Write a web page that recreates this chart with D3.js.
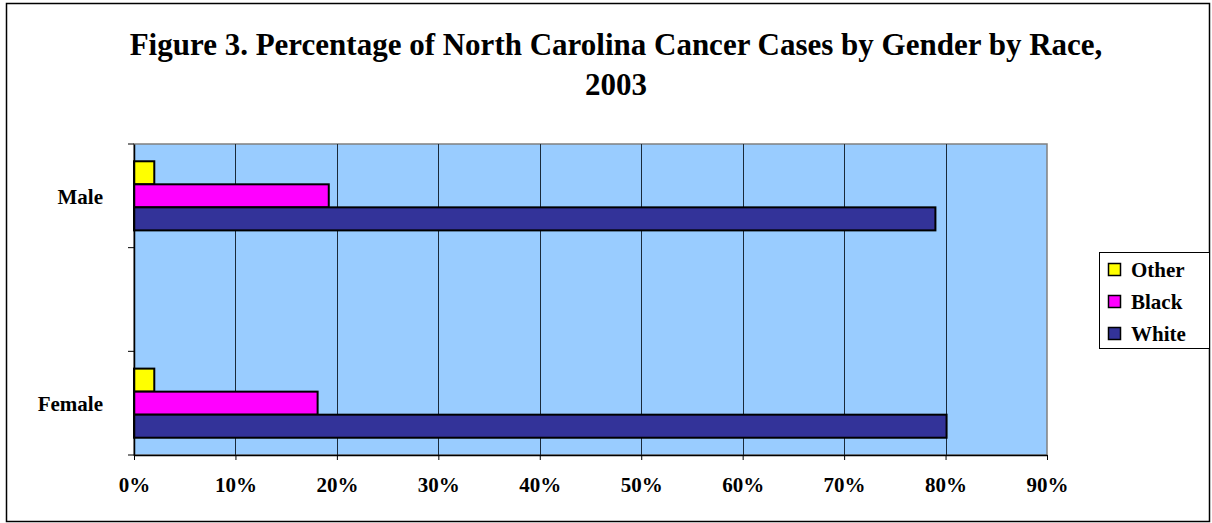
<!DOCTYPE html>
<html><head><meta charset="utf-8">
<script src="https://cdn.jsdelivr.net/npm/d3@7"></script>
<style>body{margin:0;background:#fff}svg{display:block}</style>
</head><body>
<script>
const categories = ["Male", "", "Female"];
const series = ["Other", "Black", "White"];
const otherValues = [2.0, null, 2.0];
const blackValues = [19.2, null, 18.1];
const whiteValues = [79.0, null, 80.1];
const xTicks = [0, 10, 20, 30, 40, 50, 60, 70, 80, 90];
const colors = ["#FFFF00", "#FF00FF", "#333399"];
const titleLines = ["Figure 3. Percentage of North Carolina Cancer Cases by Gender by Race,", "2003"];

const W = 1212, H = 523;
const svg = d3.select("body").append("svg").attr("width", W).attr("height", H);
const font = "'Liberation Serif','Times New Roman',serif";

svg.append("rect").attr("x", 6.5).attr("y", 3.5).attr("width", 1203).attr("height", 518)
  .attr("fill", "#fff").attr("stroke", "#000").attr("stroke-width", 1.5);

const plot = {l: 134, r: 1047, t: 144, b: 455};
const x = d3.scaleLinear().domain([0, 90]).range([plot.l, plot.r]);
const y = d3.scaleBand().domain(categories).range([plot.t, plot.b]).paddingInner(0).paddingOuter(0);
const yInner = d3.scaleBand().domain(series).range([0, y.bandwidth()]).paddingInner(0).paddingOuter(0.75);

svg.append("rect").attr("x", plot.l).attr("y", plot.t).attr("width", plot.r - plot.l).attr("height", plot.b - plot.t)
  .attr("fill", "#99CCFF").attr("stroke", "#808080").attr("stroke-width", 1.5);

// gridlines
svg.append("g").selectAll("line").data(xTicks.slice(1, -1)).join("line")
  .attr("x1", d => Math.round(x(d)) + 0.5).attr("x2", d => Math.round(x(d)) + 0.5)
  .attr("y1", plot.t).attr("y2", plot.b).attr("stroke", "#1a2a3a").attr("stroke-width", 1);

const rows = categories.map((c, i) => ({cat: c, vals: [otherValues[i], blackValues[i], whiteValues[i]]}));
const g = svg.append("g");
rows.forEach(r => {
  r.vals.forEach((v, j) => {
    if (v == null) return;
    g.append("rect")
      .attr("x", x(0)).attr("y", y(r.cat) + yInner(series[j]))
      .attr("width", x(v) - x(0)).attr("height", yInner.bandwidth())
      .attr("fill", colors[j]).attr("stroke", "#000").attr("stroke-width", 2);
  });
});

// x axis
const xAxis = d3.axisBottom(x).tickValues(xTicks).tickFormat(d => d + "%").tickSize(5).tickSizeOuter(0);
const xg = svg.append("g").attr("transform", `translate(0,${plot.b})`).call(xAxis);
xg.select(".domain").attr("stroke", "#000").attr("stroke-width", 1.5);
xg.selectAll(".tick line").attr("stroke", "#000");
xg.selectAll("text").attr("font-family", font).attr("font-weight", "bold").attr("font-size", 21)
  .attr("fill", "#000").attr("dy", "0").attr("y", 37);

// y axis
const yAxis = d3.axisLeft(y).tickSize(0).tickFormat(d => d);
const yg = svg.append("g").attr("transform", `translate(${plot.l},0)`).call(yAxis);
yg.select(".domain").attr("stroke", "#000").attr("stroke-width", 1.5);
yg.selectAll("text").attr("font-family", font).attr("font-weight", "bold").attr("font-size", 21)
  .attr("fill", "#000").attr("x", -31).attr("dy", "0.38em");
// category boundary ticks
const bounds = categories.map(c => y(c)).concat([y.range()[1]]);
svg.append("g").selectAll("line").data(bounds).join("line")
  .attr("x1", plot.l - 6).attr("x2", plot.l).attr("y1", d => d).attr("y2", d => d)
  .attr("stroke", "#000").attr("stroke-width", 1);

// title
svg.append("g").selectAll("text").data(titleLines).join("text")
  .attr("x", 616).attr("y", (d, i) => 55 + i * 40).attr("text-anchor", "middle")
  .attr("font-family", font).attr("font-weight", "bold").attr("font-size", 31).attr("fill", "#000").text(d => d);

// legend
const lg = svg.append("g");
lg.append("rect").attr("x", 1099.5).attr("y", 252.5).attr("width", 110).attr("height", 96)
  .attr("fill", "#fff").attr("stroke", "#000").attr("stroke-width", 1);
series.forEach((s, i) => {
  const cy = 270 + i * 32;
  lg.append("rect").attr("x", 1108.5).attr("y", cy - 6.5).attr("width", 12).attr("height", 12)
    .attr("fill", colors[i]).attr("stroke", "#000").attr("stroke-width", 1.5);
  lg.append("text").attr("x", 1131).attr("y", cy + 7).attr("font-family", font).attr("font-weight", "bold")
    .attr("font-size", 21).attr("fill", "#000").text(s);
});
</script>
</body></html>
